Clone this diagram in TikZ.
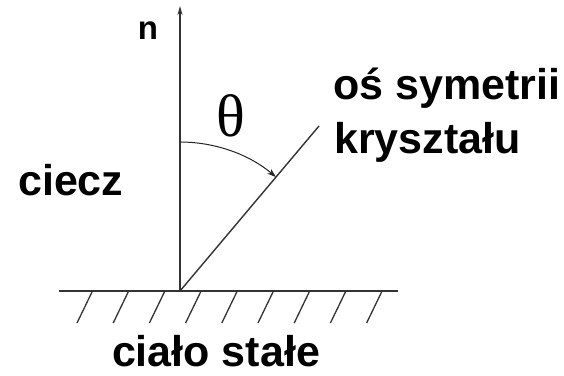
\documentclass[tikz,border=0pt]{standalone}
\usepackage{fontspec}
\setmainfont{Liberation Sans}
\newfontfamily\thetafont{Liberation Serif}
\usetikzlibrary{arrows.meta, positioning, calc}

\begin{document}
\begin{tikzpicture}[
  x=1pt, y=-1pt,
  axis/.style = {line width=1.4pt, black!80},
  hatch/.style = {line width=1.3pt, black!80},
  label/.style = {font=\bfseries\fontsize{43}{54}\selectfont, inner sep=0pt},
  anglearc/.style = {line width=1pt, black!85, -{Stealth[length=9pt, width=6pt]}}
]
\useasboundingbox (0,0) rectangle (564,375);

% Nodes
\coordinate (origin) at (180,291);
\coordinate (ntip) at (180,6);
\coordinate (axisend) at ($(origin)+(139,-165)$);
\coordinate (groundL) at (59,291);
\coordinate (groundR) at (398,291);
\node[inner sep=0pt, anchor=base, font=\bfseries\fontsize{33}{36}\selectfont] (nlabel) at (148,39) {n};
\node[inner sep=0pt, font=\thetafont\fontsize{60}{64}\selectfont] (theta) at (231,116) {θ};
\node[label, anchor=base west] (liquid) at (18,195) {ciecz};
\node[label, anchor=base west] (axislabel) at (333,99) {oś symetrii};
\node[label, anchor=base west] (axislabel2) at (334,153) {kryształu};
\node[label, anchor=base] (solid) at (216,366) {ciało stałe};

% Connections
\draw[axis, -{Stealth[length=9pt, width=5pt]}] (origin) -- (ntip);
\draw[axis] (origin) -- (axisend);
\draw[axis] (groundL) -- (groundR);
\foreach \i in {0,...,8} {
  \draw[hatch] (92+36.2*\i,292) -- ++(-15,31);
}

% Angle arc
\draw[anglearc] (180,142) arc[start angle=-90, end angle=-49.9, radius=149];

\end{tikzpicture}
\end{document}
